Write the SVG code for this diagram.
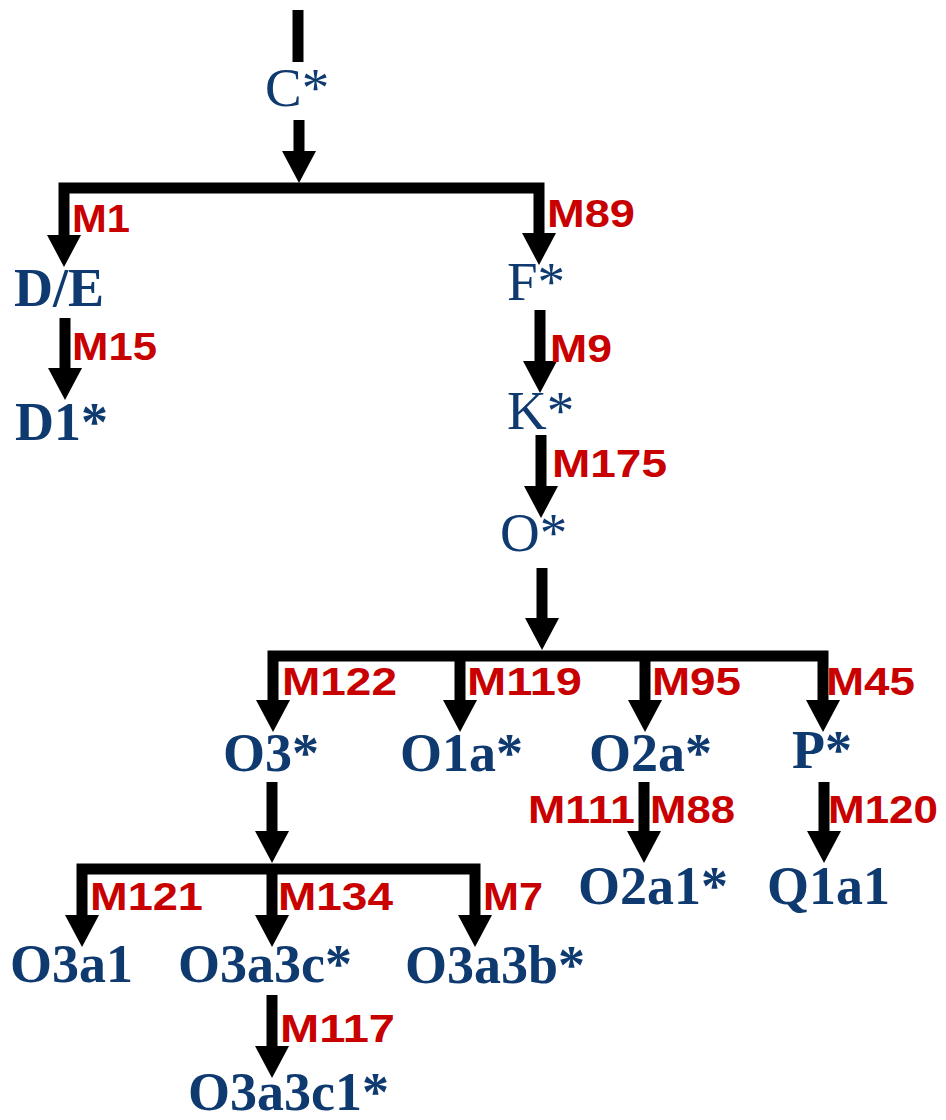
<svg xmlns="http://www.w3.org/2000/svg" xmlns:xlink="http://www.w3.org/1999/xlink" width="946" height="1120" viewBox="0 0 946 1120">
<style>
.n{font-family:"Liberation Serif","Times New Roman",serif;font-size:54px;font-weight:bold;fill:#0f3a70}
.r{font-weight:normal;font-size:55px}
.m{font-family:"Liberation Sans",Arial,sans-serif;font-size:38px;font-weight:bold;fill:#c80000}
.c{fill:none;stroke:#000;stroke-width:11;stroke-linejoin:miter;stroke-linecap:butt}
</style>
<defs>
<path id="h" d="M-17,-32 L17,-32 L0,0 Z" fill="#000"/>
</defs>
<rect width="946" height="1120" fill="#fff"/>
<g id="connectors">
<path class="c" d="M298,10 V62"/>
<path class="c" d="M299,120 V155"/>
<use xlink:href="#h" x="299" y="183"/>
<path class="c" d="M64,240 V188 H539 V240"/>
<use xlink:href="#h" x="64" y="267"/>
<use xlink:href="#h" x="539" y="265"/>
<path class="c" d="M65,318 V372"/>
<use xlink:href="#h" x="65" y="400"/>
<path class="c" d="M540,310 V365"/>
<use xlink:href="#h" x="540" y="393"/>
<path class="c" d="M541,435 V490"/>
<use xlink:href="#h" x="541" y="518"/>
<path class="c" d="M542,568 V622"/>
<use xlink:href="#h" x="542" y="650"/>
<path class="c" d="M273,706 V656 H823 V706"/>
<path class="c" d="M460,656 V706"/>
<path class="c" d="M645,656 V706"/>
<use xlink:href="#h" x="273" y="732"/>
<use xlink:href="#h" x="460" y="732"/>
<use xlink:href="#h" x="645" y="732"/>
<use xlink:href="#h" x="823" y="732"/>
<path class="c" d="M272,782 V836"/>
<use xlink:href="#h" x="272" y="863"/>
<path class="c" d="M82,920 V869 H475 V920"/>
<path class="c" d="M272,869 V920"/>
<use xlink:href="#h" x="82" y="947"/>
<use xlink:href="#h" x="272" y="947"/>
<use xlink:href="#h" x="475" y="947"/>
<path class="c" d="M272,995 V1050"/>
<use xlink:href="#h" x="272" y="1078"/>
<path class="c" d="M644,782 V835"/>
<use xlink:href="#h" x="644" y="863"/>
<path class="c" d="M824,782 V835"/>
<use xlink:href="#h" x="824" y="863"/>
<g id="edge-labels">
<text class="m" x="72" y="232" textLength="58" lengthAdjust="spacingAndGlyphs">M1</text>
<text class="m" x="72" y="360" textLength="85" lengthAdjust="spacingAndGlyphs">M15</text>
<text class="m" x="547" y="227" textLength="88" lengthAdjust="spacingAndGlyphs">M89</text>
<text class="m" x="550" y="362" textLength="62" lengthAdjust="spacingAndGlyphs">M9</text>
<text class="m" x="552" y="477" textLength="115" lengthAdjust="spacingAndGlyphs">M175</text>
<text class="m" x="282" y="695" textLength="115" lengthAdjust="spacingAndGlyphs">M122</text>
<text class="m" x="467" y="695" textLength="115" lengthAdjust="spacingAndGlyphs">M119</text>
<text class="m" x="652" y="695" textLength="89" lengthAdjust="spacingAndGlyphs">M95</text>
<text class="m" x="826" y="695" textLength="89" lengthAdjust="spacingAndGlyphs">M45</text>
<text class="m" x="528" y="823" textLength="107" lengthAdjust="spacingAndGlyphs">M111</text>
<text class="m" x="650" y="823" textLength="85" lengthAdjust="spacingAndGlyphs">M88</text>
<text class="m" x="828" y="823" textLength="110" lengthAdjust="spacingAndGlyphs">M120</text>
<text class="m" x="90" y="910" textLength="113" lengthAdjust="spacingAndGlyphs">M121</text>
<text class="m" x="278" y="910" textLength="115" lengthAdjust="spacingAndGlyphs">M134</text>
<text class="m" x="483" y="910" textLength="60" lengthAdjust="spacingAndGlyphs">M7</text>
<text class="m" x="280" y="1042" textLength="115" lengthAdjust="spacingAndGlyphs">M117</text>
</g>
</g>
<g id="node-C"><text class="n r" x="265" y="106">C*</text></g>
<g id="node-DE"><text class="n" x="14" y="306">D/E</text></g>
<g id="node-D1"><text class="n" x="15" y="440">D1*</text></g>
<g id="node-F"><text class="n r" x="507" y="300">F*</text></g>
<g id="node-K"><text class="n r" x="507" y="429">K*</text></g>
<g id="node-O"><text class="n r" x="500" y="551">O*</text></g>
<g id="node-O3"><text class="n" x="223" y="771">O3*</text></g>
<g id="node-O1a"><text class="n" x="400" y="771">O1a*</text></g>
<g id="node-O2a"><text class="n" x="589" y="771">O2a*</text></g>
<g id="node-P"><text class="n" x="792" y="768">P*</text></g>
<g id="node-O2a1"><text class="n" x="578" y="904">O2a1*</text></g>
<g id="node-Q1a1"><text class="n" x="767" y="904">Q1a1</text></g>
<g id="node-O3a1"><text class="n" x="10" y="982">O3a1</text></g>
<g id="node-O3a3c"><text class="n" x="178" y="982">O3a3c*</text></g>
<g id="node-O3a3b"><text class="n" x="405" y="983">O3a3b*</text></g>
<g id="node-O3a3c1"><text class="n" x="188" y="1110">O3a3c1*</text></g>
</svg>
